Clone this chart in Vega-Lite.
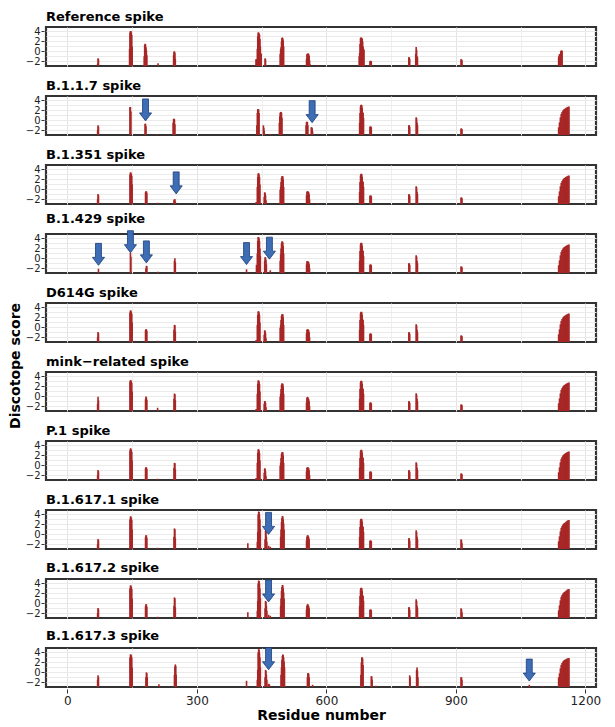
{
"$schema":"https://vega.github.io/schema/vega-lite/v6.json",
"padding":{"left":9,"top":9,"right":5,"bottom":2},
"background":"white",
"title":{"text":"Discotope score","orient":"left","anchor":"middle","fontSize":14,"fontWeight":"bold","font":"DejaVu Sans","color":"black","offset":2},
"datasets":{"d":[
{"v":0,"r":70,"s":-2.5},{"v":0,"r":71,"s":-1.4},{"v":0,"r":72,"s":-1.6},
{"v":0,"r":144,"s":0.5},{"v":0,"r":145,"s":3.8},{"v":0,"r":146,"s":4.1},{"v":0,"r":147,"s":4.1},{"v":0,"r":148,"s":3.8},{"v":0,"r":149,"s":3.3},{"v":0,"r":150,"s":1.0},
{"v":0,"r":178,"s":-1.0},{"v":0,"r":179,"s":1.3},{"v":0,"r":180,"s":1.55},{"v":0,"r":181,"s":1.4},{"v":0,"r":182,"s":0.8},{"v":0,"r":183,"s":0.2},{"v":0,"r":184,"s":-0.8},
{"v":0,"r":210,"s":-2.4},
{"v":0,"r":246,"s":-0.8},{"v":0,"r":247,"s":-0.1},{"v":0,"r":248,"s":0.0},{"v":0,"r":249,"s":-0.3},{"v":0,"r":250,"s":-1.5},
{"v":0,"r":437,"s":-1.6},{"v":0,"r":438,"s":-1.6},{"v":0,"r":439,"s":-1.9},{"v":0,"r":440,"s":0.5},{"v":0,"r":441,"s":3.0},{"v":0,"r":442,"s":3.8},{"v":0,"r":443,"s":3.8},{"v":0,"r":444,"s":3.6},{"v":0,"r":445,"s":3.4},{"v":0,"r":446,"s":2.5},{"v":0,"r":447,"s":1.0},{"v":0,"r":448,"s":-0.4},{"v":0,"r":449,"s":-0.5},
{"v":0,"r":458,"s":-1.4},{"v":0,"r":459,"s":-1.6},
{"v":0,"r":493,"s":-0.5},{"v":0,"r":494,"s":0.4},{"v":0,"r":495,"s":0.8},{"v":0,"r":496,"s":2.0},{"v":0,"r":497,"s":2.7},{"v":0,"r":498,"s":2.8},{"v":0,"r":499,"s":2.6},{"v":0,"r":500,"s":2.2},{"v":0,"r":501,"s":1.0},
{"v":0,"r":554,"s":-1.5},{"v":0,"r":555,"s":-0.6},{"v":0,"r":556,"s":-0.5},{"v":0,"r":557,"s":-0.5},{"v":0,"r":558,"s":-0.4},{"v":0,"r":559,"s":-0.6},{"v":0,"r":560,"s":-0.9},{"v":0,"r":561,"s":-1.8},{"v":0,"r":562,"s":-2.6},
{"v":0,"r":580,"s":-2.8},
{"v":0,"r":676,"s":-1.0},{"v":0,"r":677,"s":-0.3},{"v":0,"r":678,"s":1.5},{"v":0,"r":679,"s":2.7},{"v":0,"r":680,"s":2.8},{"v":0,"r":681,"s":2.75},{"v":0,"r":682,"s":2.7},{"v":0,"r":683,"s":2.5},{"v":0,"r":684,"s":2.0},{"v":0,"r":685,"s":1.0},{"v":0,"r":686,"s":0.5},{"v":0,"r":687,"s":0.3},
{"v":0,"r":701,"s":-2.0},{"v":0,"r":702,"s":-1.9},{"v":0,"r":703,"s":-1.95},{"v":0,"r":704,"s":-2.0},
{"v":0,"r":791,"s":-1.2},{"v":0,"r":792,"s":-1.2},{"v":0,"r":793,"s":-1.5},
{"v":0,"r":807,"s":-0.5},{"v":0,"r":808,"s":0.85},{"v":0,"r":809,"s":0.3},{"v":0,"r":810,"s":-1.0},{"v":0,"r":811,"s":-1.2},
{"v":0,"r":912,"s":-1.6},{"v":0,"r":913,"s":-1.6},{"v":0,"r":914,"s":-1.8},
{"v":0,"r":1069,"s":-2.9},
{"v":0,"r":1138,"s":-1.2},{"v":0,"r":1139,"s":-0.9},{"v":0,"r":1140,"s":-0.6},{"v":0,"r":1141,"s":-0.55},{"v":0,"r":1142,"s":-0.5},{"v":0,"r":1143,"s":0.0},{"v":0,"r":1144,"s":0.15},{"v":0,"r":1145,"s":0.15},{"v":0,"r":1146,"s":0.1},

{"v":1,"r":70,"s":-2.0},{"v":1,"r":71,"s":-1.0},{"v":1,"r":72,"s":-1.3},
{"v":1,"r":145,"s":2.7},{"v":1,"r":146,"s":2.7},{"v":1,"r":147,"s":1.8},
{"v":1,"r":180,"s":-0.7},{"v":1,"r":181,"s":-0.7},{"v":1,"r":182,"s":-1.2},
{"v":1,"r":207,"s":-2.8},
{"v":1,"r":245,"s":-0.5},{"v":1,"r":246,"s":0.3},{"v":1,"r":247,"s":0.3},{"v":1,"r":248,"s":0.2},{"v":1,"r":249,"s":-0.8},
{"v":1,"r":411,"s":-2.8},
{"v":1,"r":439,"s":-1.0},{"v":1,"r":440,"s":1.5},{"v":1,"r":441,"s":2.25},{"v":1,"r":442,"s":2.25},{"v":1,"r":443,"s":2.2},{"v":1,"r":444,"s":1.5},
{"v":1,"r":454,"s":-1.0},{"v":1,"r":455,"s":-1.5},{"v":1,"r":456,"s":-2.1},
{"v":1,"r":471,"s":-2.8},
{"v":1,"r":491,"s":-0.5},{"v":1,"r":492,"s":0.8},{"v":1,"r":493,"s":1.5},{"v":1,"r":494,"s":1.7},{"v":1,"r":495,"s":1.7},{"v":1,"r":496,"s":1.5},{"v":1,"r":497,"s":0.5},
{"v":1,"r":553,"s":-1.0},{"v":1,"r":554,"s":-0.3},{"v":1,"r":555,"s":-0.3},{"v":1,"r":556,"s":-0.4},{"v":1,"r":557,"s":-1.0},
{"v":1,"r":565,"s":-1.4},{"v":1,"r":566,"s":-1.4},{"v":1,"r":567,"s":-1.6},{"v":1,"r":568,"s":-2.2},
{"v":1,"r":677,"s":-0.5},{"v":1,"r":678,"s":1.5},{"v":1,"r":679,"s":2.8},{"v":1,"r":680,"s":3.1},{"v":1,"r":681,"s":3.15},{"v":1,"r":682,"s":3.0},{"v":1,"r":683,"s":2.5},{"v":1,"r":684,"s":1.65},{"v":1,"r":685,"s":1.5},{"v":1,"r":686,"s":0.5},
{"v":1,"r":701,"s":-1.3},{"v":1,"r":702,"s":-1.25},{"v":1,"r":703,"s":-1.25},{"v":1,"r":704,"s":-1.4},
{"v":1,"r":791,"s":-1.0},{"v":1,"r":792,"s":-1.0},{"v":1,"r":793,"s":-1.3},
{"v":1,"r":808,"s":0.6},{"v":1,"r":809,"s":0.4},{"v":1,"r":810,"s":-0.5},{"v":1,"r":811,"s":-1.0},
{"v":1,"r":912,"s":-1.65},{"v":1,"r":913,"s":-1.65},{"v":1,"r":914,"s":-1.8},
{"v":1,"r":1138,"s":-1.4},{"v":1,"r":1140,"s":-0.4},{"v":1,"r":1142,"s":0.6},{"v":1,"r":1144,"s":1.3},{"v":1,"r":1146,"s":1.7},{"v":1,"r":1148,"s":2.0},{"v":1,"r":1150,"s":2.2},{"v":1,"r":1152,"s":2.3},{"v":1,"r":1154,"s":2.45},{"v":1,"r":1156,"s":2.55},{"v":1,"r":1158,"s":2.65},{"v":1,"r":1160,"s":2.75},{"v":1,"r":1162,"s":2.8},
{"v":1,"r":181,"a":2.1},{"v":1,"r":567,"a":1.75},

{"v":2,"r":70,"s":-2.0},{"v":2,"r":71,"s":-0.95},{"v":2,"r":72,"s":-1.2},
{"v":2,"r":145,"s":3.0},{"v":2,"r":146,"s":3.4},{"v":2,"r":147,"s":3.4},{"v":2,"r":148,"s":3.1},{"v":2,"r":149,"s":2.7},{"v":2,"r":150,"s":1.0},
{"v":2,"r":181,"s":-0.6},{"v":2,"r":182,"s":-0.4},{"v":2,"r":183,"s":-0.4},{"v":2,"r":184,"s":-0.7},
{"v":2,"r":209,"s":-2.7},
{"v":2,"r":247,"s":-2.2},{"v":2,"r":248,"s":-2.0},{"v":2,"r":249,"s":-2.0},{"v":2,"r":250,"s":-2.5},
{"v":2,"r":437,"s":-2.6},{"v":2,"r":438,"s":-2.6},{"v":2,"r":440,"s":0.5},{"v":2,"r":441,"s":2.5},{"v":2,"r":442,"s":3.2},{"v":2,"r":443,"s":3.25},{"v":2,"r":444,"s":3.0},{"v":2,"r":445,"s":2.5},{"v":2,"r":446,"s":1.0},
{"v":2,"r":456,"s":-1.5},{"v":2,"r":457,"s":-0.6},{"v":2,"r":458,"s":-0.7},{"v":2,"r":459,"s":-1.2},{"v":2,"r":460,"s":-2.2},
{"v":2,"r":493,"s":-0.1},{"v":2,"r":494,"s":0.5},{"v":2,"r":495,"s":1.5},{"v":2,"r":496,"s":2.3},{"v":2,"r":497,"s":2.6},{"v":2,"r":498,"s":2.7},{"v":2,"r":499,"s":2.6},{"v":2,"r":500,"s":2.0},{"v":2,"r":501,"s":0.5},
{"v":2,"r":554,"s":-1.2},{"v":2,"r":555,"s":-0.5},{"v":2,"r":556,"s":-0.4},{"v":2,"r":557,"s":-0.4},{"v":2,"r":558,"s":-0.5},{"v":2,"r":559,"s":-0.6},{"v":2,"r":560,"s":-1.0},{"v":2,"r":561,"s":-2.0},
{"v":2,"r":580,"s":-2.8},
{"v":2,"r":677,"s":-0.5},{"v":2,"r":678,"s":1.5},{"v":2,"r":679,"s":2.8},{"v":2,"r":680,"s":3.1},{"v":2,"r":681,"s":3.15},{"v":2,"r":682,"s":3.0},{"v":2,"r":683,"s":2.5},{"v":2,"r":684,"s":1.65},{"v":2,"r":685,"s":1.5},{"v":2,"r":686,"s":0.5},
{"v":2,"r":701,"s":-1.3},{"v":2,"r":702,"s":-1.25},{"v":2,"r":703,"s":-1.25},{"v":2,"r":704,"s":-1.4},
{"v":2,"r":791,"s":-1.0},{"v":2,"r":792,"s":-1.0},{"v":2,"r":793,"s":-1.3},
{"v":2,"r":808,"s":0.6},{"v":2,"r":809,"s":0.4},{"v":2,"r":810,"s":-0.5},{"v":2,"r":811,"s":-1.0},
{"v":2,"r":912,"s":-1.65},{"v":2,"r":913,"s":-1.65},{"v":2,"r":914,"s":-1.8},
{"v":2,"r":1138,"s":-1.4},{"v":2,"r":1140,"s":-0.4},{"v":2,"r":1142,"s":0.6},{"v":2,"r":1144,"s":1.3},{"v":2,"r":1146,"s":1.7},{"v":2,"r":1148,"s":2.0},{"v":2,"r":1150,"s":2.2},{"v":2,"r":1152,"s":2.3},{"v":2,"r":1154,"s":2.45},{"v":2,"r":1156,"s":2.55},{"v":2,"r":1158,"s":2.65},{"v":2,"r":1160,"s":2.75},{"v":2,"r":1162,"s":2.8},
{"v":2,"r":252,"a":1.3},

{"v":3,"r":72,"s":-2.1},
{"v":3,"r":146,"s":1.15},{"v":3,"r":147,"s":0.3},
{"v":3,"r":182,"s":-2.0},{"v":3,"r":183,"s":-1.5},{"v":3,"r":184,"s":-1.6},
{"v":3,"r":210,"s":-2.7},
{"v":3,"r":248,"s":-0.5},{"v":3,"r":249,"s":0.0},{"v":3,"r":250,"s":-0.8},
{"v":3,"r":415,"s":-2.2},
{"v":3,"r":438,"s":-1.3},{"v":3,"r":439,"s":-1.5},{"v":3,"r":440,"s":1.0},{"v":3,"r":441,"s":3.5},{"v":3,"r":442,"s":4.3},{"v":3,"r":443,"s":4.3},{"v":3,"r":444,"s":4.0},{"v":3,"r":445,"s":3.5},{"v":3,"r":446,"s":2.0},{"v":3,"r":447,"s":0.5},
{"v":3,"r":457,"s":-0.5},{"v":3,"r":458,"s":0.2},{"v":3,"r":459,"s":0.2},{"v":3,"r":460,"s":-0.3},{"v":3,"r":461,"s":-1.2},
{"v":3,"r":470,"s":-2.4},
{"v":3,"r":493,"s":-0.5},{"v":3,"r":494,"s":0.8},{"v":3,"r":495,"s":2.0},{"v":3,"r":496,"s":3.0},{"v":3,"r":497,"s":3.4},{"v":3,"r":498,"s":3.4},{"v":3,"r":499,"s":3.2},{"v":3,"r":500,"s":2.5},{"v":3,"r":501,"s":1.0},
{"v":3,"r":554,"s":-1.2},{"v":3,"r":555,"s":-0.6},{"v":3,"r":556,"s":-0.6},{"v":3,"r":557,"s":-0.6},{"v":3,"r":558,"s":-0.7},{"v":3,"r":559,"s":-0.8},{"v":3,"r":560,"s":-1.2},{"v":3,"r":561,"s":-2.0},
{"v":3,"r":677,"s":-0.5},{"v":3,"r":678,"s":1.5},{"v":3,"r":679,"s":2.8},{"v":3,"r":680,"s":3.1},{"v":3,"r":681,"s":3.15},{"v":3,"r":682,"s":3.0},{"v":3,"r":683,"s":2.5},{"v":3,"r":684,"s":1.65},{"v":3,"r":685,"s":1.5},{"v":3,"r":686,"s":0.5},
{"v":3,"r":701,"s":-1.3},{"v":3,"r":702,"s":-1.25},{"v":3,"r":703,"s":-1.25},{"v":3,"r":704,"s":-1.4},
{"v":3,"r":791,"s":-1.0},{"v":3,"r":792,"s":-1.0},{"v":3,"r":793,"s":-1.3},
{"v":3,"r":808,"s":0.6},{"v":3,"r":809,"s":0.4},{"v":3,"r":810,"s":-0.5},{"v":3,"r":811,"s":-1.0},
{"v":3,"r":912,"s":-1.65},{"v":3,"r":913,"s":-1.65},{"v":3,"r":914,"s":-1.8},
{"v":3,"r":1138,"s":-1.4},{"v":3,"r":1140,"s":-0.4},{"v":3,"r":1142,"s":0.6},{"v":3,"r":1144,"s":1.3},{"v":3,"r":1146,"s":1.7},{"v":3,"r":1148,"s":2.0},{"v":3,"r":1150,"s":2.2},{"v":3,"r":1152,"s":2.3},{"v":3,"r":1154,"s":2.45},{"v":3,"r":1156,"s":2.55},{"v":3,"r":1158,"s":2.65},{"v":3,"r":1160,"s":2.75},{"v":3,"r":1162,"s":2.8},
{"v":3,"r":72,"a":0.8},{"v":3,"r":146,"a":3.35},{"v":3,"r":183,"a":1.3},{"v":3,"r":415,"a":0.95},{"v":3,"r":468,"a":2.05},

{"v":4,"r":70,"s":-2.0},{"v":4,"r":71,"s":-0.95},{"v":4,"r":72,"s":-1.2},
{"v":4,"r":145,"s":3.0},{"v":4,"r":146,"s":3.4},{"v":4,"r":147,"s":3.4},{"v":4,"r":148,"s":3.1},{"v":4,"r":149,"s":2.7},{"v":4,"r":150,"s":1.0},
{"v":4,"r":181,"s":-0.6},{"v":4,"r":182,"s":-0.4},{"v":4,"r":183,"s":-0.4},{"v":4,"r":184,"s":-0.7},
{"v":4,"r":209,"s":-2.7},
{"v":4,"r":247,"s":-0.5},{"v":4,"r":248,"s":0.5},{"v":4,"r":249,"s":0.4},{"v":4,"r":250,"s":-0.8},
{"v":4,"r":437,"s":-2.6},{"v":4,"r":438,"s":-2.6},{"v":4,"r":440,"s":0.5},{"v":4,"r":441,"s":2.5},{"v":4,"r":442,"s":3.2},{"v":4,"r":443,"s":3.25},{"v":4,"r":444,"s":3.0},{"v":4,"r":445,"s":2.5},{"v":4,"r":446,"s":1.0},
{"v":4,"r":456,"s":-1.5},{"v":4,"r":457,"s":-0.6},{"v":4,"r":458,"s":-0.7},{"v":4,"r":459,"s":-1.2},{"v":4,"r":460,"s":-2.2},
{"v":4,"r":493,"s":-0.1},{"v":4,"r":494,"s":0.5},{"v":4,"r":495,"s":1.5},{"v":4,"r":496,"s":2.3},{"v":4,"r":497,"s":2.6},{"v":4,"r":498,"s":2.7},{"v":4,"r":499,"s":2.6},{"v":4,"r":500,"s":2.0},{"v":4,"r":501,"s":0.5},
{"v":4,"r":554,"s":-1.2},{"v":4,"r":555,"s":-0.5},{"v":4,"r":556,"s":-0.4},{"v":4,"r":557,"s":-0.4},{"v":4,"r":558,"s":-0.5},{"v":4,"r":559,"s":-0.6},{"v":4,"r":560,"s":-1.0},{"v":4,"r":561,"s":-2.0},
{"v":4,"r":580,"s":-2.8},
{"v":4,"r":677,"s":-0.5},{"v":4,"r":678,"s":1.5},{"v":4,"r":679,"s":2.8},{"v":4,"r":680,"s":3.1},{"v":4,"r":681,"s":3.15},{"v":4,"r":682,"s":3.0},{"v":4,"r":683,"s":2.5},{"v":4,"r":684,"s":1.65},{"v":4,"r":685,"s":1.5},{"v":4,"r":686,"s":0.5},
{"v":4,"r":701,"s":-1.3},{"v":4,"r":702,"s":-1.25},{"v":4,"r":703,"s":-1.25},{"v":4,"r":704,"s":-1.4},
{"v":4,"r":791,"s":-1.0},{"v":4,"r":792,"s":-1.0},{"v":4,"r":793,"s":-1.3},
{"v":4,"r":808,"s":0.6},{"v":4,"r":809,"s":0.4},{"v":4,"r":810,"s":-0.5},{"v":4,"r":811,"s":-1.0},
{"v":4,"r":912,"s":-1.65},{"v":4,"r":913,"s":-1.65},{"v":4,"r":914,"s":-1.8},
{"v":4,"r":1138,"s":-1.4},{"v":4,"r":1140,"s":-0.4},{"v":4,"r":1142,"s":0.6},{"v":4,"r":1144,"s":1.3},{"v":4,"r":1146,"s":1.7},{"v":4,"r":1148,"s":2.0},{"v":4,"r":1150,"s":2.2},{"v":4,"r":1152,"s":2.3},{"v":4,"r":1154,"s":2.45},{"v":4,"r":1156,"s":2.55},{"v":4,"r":1158,"s":2.65},{"v":4,"r":1160,"s":2.75},{"v":4,"r":1162,"s":2.8},

{"v":5,"r":70,"s":-1.5},{"v":5,"r":71,"s":-0.1},{"v":5,"r":72,"s":-0.8},
{"v":5,"r":145,"s":3.0},{"v":5,"r":146,"s":3.25},{"v":5,"r":147,"s":3.25},{"v":5,"r":148,"s":3.0},{"v":5,"r":149,"s":2.7},{"v":5,"r":150,"s":1.0},
{"v":5,"r":181,"s":-0.6},{"v":5,"r":182,"s":-0.05},{"v":5,"r":183,"s":-0.2},{"v":5,"r":184,"s":-0.7},
{"v":5,"r":209,"s":-2.3},
{"v":5,"r":247,"s":-0.5},{"v":5,"r":248,"s":0.57},{"v":5,"r":249,"s":0.4},{"v":5,"r":250,"s":-0.8},
{"v":5,"r":437,"s":-2.6},{"v":5,"r":438,"s":-2.6},{"v":5,"r":440,"s":0.5},{"v":5,"r":441,"s":2.5},{"v":5,"r":442,"s":3.2},{"v":5,"r":443,"s":3.2},{"v":5,"r":444,"s":3.0},{"v":5,"r":445,"s":2.5},{"v":5,"r":446,"s":1.0},
{"v":5,"r":456,"s":-1.5},{"v":5,"r":457,"s":-0.95},{"v":5,"r":458,"s":-1.0},{"v":5,"r":459,"s":-1.3},{"v":5,"r":460,"s":-2.2},
{"v":5,"r":493,"s":-0.1},{"v":5,"r":494,"s":0.5},{"v":5,"r":495,"s":1.5},{"v":5,"r":496,"s":2.3},{"v":5,"r":497,"s":2.6},{"v":5,"r":498,"s":2.6},{"v":5,"r":499,"s":2.5},{"v":5,"r":500,"s":2.0},{"v":5,"r":501,"s":0.5},
{"v":5,"r":554,"s":-1.2},{"v":5,"r":555,"s":-0.3},{"v":5,"r":556,"s":-0.1},{"v":5,"r":557,"s":-0.2},{"v":5,"r":558,"s":-0.4},{"v":5,"r":559,"s":-0.6},{"v":5,"r":560,"s":-1.0},{"v":5,"r":561,"s":-2.0},
{"v":5,"r":580,"s":-2.8},
{"v":5,"r":677,"s":-0.5},{"v":5,"r":678,"s":1.5},{"v":5,"r":679,"s":2.8},{"v":5,"r":680,"s":3.1},{"v":5,"r":681,"s":3.15},{"v":5,"r":682,"s":3.0},{"v":5,"r":683,"s":2.5},{"v":5,"r":684,"s":1.65},{"v":5,"r":685,"s":1.5},{"v":5,"r":686,"s":0.5},
{"v":5,"r":701,"s":-1.3},{"v":5,"r":702,"s":-1.25},{"v":5,"r":703,"s":-1.25},{"v":5,"r":704,"s":-1.4},
{"v":5,"r":791,"s":-1.0},{"v":5,"r":792,"s":-1.0},{"v":5,"r":793,"s":-1.3},
{"v":5,"r":808,"s":0.6},{"v":5,"r":809,"s":0.4},{"v":5,"r":810,"s":-0.5},{"v":5,"r":811,"s":-1.0},
{"v":5,"r":912,"s":-1.65},{"v":5,"r":913,"s":-1.65},{"v":5,"r":914,"s":-1.8},
{"v":5,"r":1138,"s":-1.4},{"v":5,"r":1140,"s":-0.4},{"v":5,"r":1142,"s":0.6},{"v":5,"r":1144,"s":1.3},{"v":5,"r":1146,"s":1.7},{"v":5,"r":1148,"s":2.0},{"v":5,"r":1150,"s":2.2},{"v":5,"r":1152,"s":2.3},{"v":5,"r":1154,"s":2.45},{"v":5,"r":1156,"s":2.55},{"v":5,"r":1158,"s":2.65},{"v":5,"r":1160,"s":2.75},{"v":5,"r":1162,"s":2.8},

{"v":6,"r":70,"s":-2.0},{"v":6,"r":71,"s":-0.95},{"v":6,"r":72,"s":-1.2},
{"v":6,"r":145,"s":3.0},{"v":6,"r":146,"s":3.4},{"v":6,"r":147,"s":3.4},{"v":6,"r":148,"s":3.1},{"v":6,"r":149,"s":2.7},{"v":6,"r":150,"s":1.0},
{"v":6,"r":181,"s":-0.6},{"v":6,"r":182,"s":-0.4},{"v":6,"r":183,"s":-0.4},{"v":6,"r":184,"s":-0.7},
{"v":6,"r":209,"s":-2.7},
{"v":6,"r":247,"s":-0.5},{"v":6,"r":248,"s":0.5},{"v":6,"r":249,"s":0.4},{"v":6,"r":250,"s":-0.8},
{"v":6,"r":437,"s":-2.6},{"v":6,"r":438,"s":-2.6},{"v":6,"r":440,"s":0.5},{"v":6,"r":441,"s":2.5},{"v":6,"r":442,"s":3.2},{"v":6,"r":443,"s":3.25},{"v":6,"r":444,"s":3.0},{"v":6,"r":445,"s":2.5},{"v":6,"r":446,"s":1.0},
{"v":6,"r":456,"s":-1.5},{"v":6,"r":457,"s":-0.6},{"v":6,"r":458,"s":-0.7},{"v":6,"r":459,"s":-1.2},{"v":6,"r":460,"s":-2.2},
{"v":6,"r":493,"s":-0.1},{"v":6,"r":494,"s":0.5},{"v":6,"r":495,"s":1.5},{"v":6,"r":496,"s":2.3},{"v":6,"r":497,"s":2.6},{"v":6,"r":498,"s":2.7},{"v":6,"r":499,"s":2.6},{"v":6,"r":500,"s":2.0},{"v":6,"r":501,"s":0.5},
{"v":6,"r":554,"s":-1.2},{"v":6,"r":555,"s":-0.5},{"v":6,"r":556,"s":-0.4},{"v":6,"r":557,"s":-0.4},{"v":6,"r":558,"s":-0.5},{"v":6,"r":559,"s":-0.6},{"v":6,"r":560,"s":-1.0},{"v":6,"r":561,"s":-2.0},
{"v":6,"r":580,"s":-2.8},
{"v":6,"r":677,"s":-0.5},{"v":6,"r":678,"s":1.5},{"v":6,"r":679,"s":2.8},{"v":6,"r":680,"s":3.1},{"v":6,"r":681,"s":3.15},{"v":6,"r":682,"s":3.0},{"v":6,"r":683,"s":2.5},{"v":6,"r":684,"s":1.65},{"v":6,"r":685,"s":1.5},{"v":6,"r":686,"s":0.5},
{"v":6,"r":701,"s":-1.3},{"v":6,"r":702,"s":-1.25},{"v":6,"r":703,"s":-1.25},{"v":6,"r":704,"s":-1.4},
{"v":6,"r":791,"s":-1.0},{"v":6,"r":792,"s":-1.0},{"v":6,"r":793,"s":-1.3},
{"v":6,"r":808,"s":0.6},{"v":6,"r":809,"s":0.4},{"v":6,"r":810,"s":-0.5},{"v":6,"r":811,"s":-1.0},
{"v":6,"r":912,"s":-1.65},{"v":6,"r":913,"s":-1.65},{"v":6,"r":914,"s":-1.8},
{"v":6,"r":1138,"s":-1.4},{"v":6,"r":1140,"s":-0.4},{"v":6,"r":1142,"s":0.6},{"v":6,"r":1144,"s":1.3},{"v":6,"r":1146,"s":1.7},{"v":6,"r":1148,"s":2.0},{"v":6,"r":1150,"s":2.2},{"v":6,"r":1152,"s":2.3},{"v":6,"r":1154,"s":2.45},{"v":6,"r":1156,"s":2.55},{"v":6,"r":1158,"s":2.65},{"v":6,"r":1160,"s":2.75},{"v":6,"r":1162,"s":2.8},

{"v":7,"r":70,"s":-2.0},{"v":7,"r":71,"s":-0.95},{"v":7,"r":72,"s":-1.2},
{"v":7,"r":145,"s":3.0},{"v":7,"r":146,"s":3.6},{"v":7,"r":147,"s":3.6},{"v":7,"r":148,"s":3.3},{"v":7,"r":149,"s":2.9},{"v":7,"r":150,"s":1.0},
{"v":7,"r":181,"s":-0.6},{"v":7,"r":182,"s":-0.2},{"v":7,"r":183,"s":-0.2},{"v":7,"r":184,"s":-0.7},
{"v":7,"r":209,"s":-2.7},
{"v":7,"r":247,"s":-0.5},{"v":7,"r":248,"s":1.2},{"v":7,"r":249,"s":1.0},{"v":7,"r":250,"s":-0.8},
{"v":7,"r":418,"s":-1.8},
{"v":7,"r":440,"s":-1.5},{"v":7,"r":441,"s":0.5},{"v":7,"r":442,"s":4.0},{"v":7,"r":443,"s":4.6},{"v":7,"r":444,"s":4.5},{"v":7,"r":445,"s":4.0},{"v":7,"r":446,"s":3.0},{"v":7,"r":447,"s":1.0},
{"v":7,"r":458,"s":-1.0},{"v":7,"r":459,"s":0.8},{"v":7,"r":460,"s":0.5},{"v":7,"r":461,"s":-0.5},{"v":7,"r":462,"s":-1.5},
{"v":7,"r":466,"s":-2.3},{"v":7,"r":470,"s":-2.5},
{"v":7,"r":494,"s":-0.5},{"v":7,"r":495,"s":1.0},{"v":7,"r":496,"s":2.5},{"v":7,"r":497,"s":3.3},{"v":7,"r":498,"s":3.7},{"v":7,"r":499,"s":3.6},{"v":7,"r":500,"s":3.0},{"v":7,"r":501,"s":2.2},{"v":7,"r":502,"s":1.0},
{"v":7,"r":554,"s":-1.2},{"v":7,"r":555,"s":-0.5},{"v":7,"r":556,"s":-0.2},{"v":7,"r":557,"s":-0.2},{"v":7,"r":558,"s":-0.4},{"v":7,"r":559,"s":-0.6},{"v":7,"r":560,"s":-1.0},
{"v":7,"r":677,"s":-0.5},{"v":7,"r":678,"s":1.5},{"v":7,"r":679,"s":2.8},{"v":7,"r":680,"s":3.1},{"v":7,"r":681,"s":3.15},{"v":7,"r":682,"s":3.0},{"v":7,"r":683,"s":2.5},{"v":7,"r":684,"s":1.65},{"v":7,"r":685,"s":1.5},{"v":7,"r":686,"s":0.5},
{"v":7,"r":701,"s":-1.3},{"v":7,"r":702,"s":-1.25},{"v":7,"r":703,"s":-1.25},{"v":7,"r":704,"s":-1.4},
{"v":7,"r":791,"s":-0.8},{"v":7,"r":792,"s":-0.8},{"v":7,"r":793,"s":-1.3},
{"v":7,"r":808,"s":0.8},{"v":7,"r":809,"s":0.5},{"v":7,"r":810,"s":-0.5},{"v":7,"r":811,"s":-1.0},
{"v":7,"r":912,"s":-1.0},{"v":7,"r":913,"s":-1.2},{"v":7,"r":914,"s":-1.8},
{"v":7,"r":1138,"s":-1.4},{"v":7,"r":1140,"s":-0.4},{"v":7,"r":1142,"s":0.6},{"v":7,"r":1144,"s":1.3},{"v":7,"r":1146,"s":1.7},{"v":7,"r":1148,"s":2.0},{"v":7,"r":1150,"s":2.2},{"v":7,"r":1152,"s":2.3},{"v":7,"r":1154,"s":2.45},{"v":7,"r":1156,"s":2.6},{"v":7,"r":1158,"s":2.75},{"v":7,"r":1160,"s":2.85},{"v":7,"r":1162,"s":2.9},
{"v":7,"r":466,"a":2.2},

{"v":8,"r":70,"s":-2.0},{"v":8,"r":71,"s":-0.95},{"v":8,"r":72,"s":-1.2},
{"v":8,"r":145,"s":3.0},{"v":8,"r":146,"s":3.6},{"v":8,"r":147,"s":3.6},{"v":8,"r":148,"s":3.3},{"v":8,"r":149,"s":2.9},{"v":8,"r":150,"s":1.0},
{"v":8,"r":181,"s":-0.6},{"v":8,"r":182,"s":-0.2},{"v":8,"r":183,"s":-0.2},{"v":8,"r":184,"s":-0.7},
{"v":8,"r":209,"s":-2.7},
{"v":8,"r":247,"s":-0.5},{"v":8,"r":248,"s":1.2},{"v":8,"r":249,"s":1.0},{"v":8,"r":250,"s":-0.8},
{"v":8,"r":418,"s":-1.8},
{"v":8,"r":440,"s":-1.5},{"v":8,"r":441,"s":0.5},{"v":8,"r":442,"s":4.0},{"v":8,"r":443,"s":4.6},{"v":8,"r":444,"s":4.5},{"v":8,"r":445,"s":4.0},{"v":8,"r":446,"s":3.0},{"v":8,"r":447,"s":1.0},
{"v":8,"r":458,"s":-1.0},{"v":8,"r":459,"s":0.5},{"v":8,"r":460,"s":0.3},{"v":8,"r":461,"s":-0.5},{"v":8,"r":462,"s":-1.5},
{"v":8,"r":466,"s":-2.3},{"v":8,"r":470,"s":-2.5},
{"v":8,"r":494,"s":-0.5},{"v":8,"r":495,"s":1.0},{"v":8,"r":496,"s":2.5},{"v":8,"r":497,"s":3.3},{"v":8,"r":498,"s":3.7},{"v":8,"r":499,"s":3.6},{"v":8,"r":500,"s":3.0},{"v":8,"r":501,"s":2.2},{"v":8,"r":502,"s":1.0},
{"v":8,"r":554,"s":-1.2},{"v":8,"r":555,"s":-0.5},{"v":8,"r":556,"s":-0.2},{"v":8,"r":557,"s":-0.2},{"v":8,"r":558,"s":-0.4},{"v":8,"r":559,"s":-0.6},{"v":8,"r":560,"s":-1.0},
{"v":8,"r":677,"s":-0.5},{"v":8,"r":678,"s":1.5},{"v":8,"r":679,"s":2.8},{"v":8,"r":680,"s":3.1},{"v":8,"r":681,"s":3.15},{"v":8,"r":682,"s":3.0},{"v":8,"r":683,"s":2.5},{"v":8,"r":684,"s":1.65},{"v":8,"r":685,"s":1.5},{"v":8,"r":686,"s":0.5},
{"v":8,"r":701,"s":-1.3},{"v":8,"r":702,"s":-1.25},{"v":8,"r":703,"s":-1.25},{"v":8,"r":704,"s":-1.4},
{"v":8,"r":791,"s":-0.8},{"v":8,"r":792,"s":-0.8},{"v":8,"r":793,"s":-1.3},
{"v":8,"r":808,"s":0.8},{"v":8,"r":809,"s":0.5},{"v":8,"r":810,"s":-0.5},{"v":8,"r":811,"s":-1.0},
{"v":8,"r":912,"s":-1.0},{"v":8,"r":913,"s":-1.2},{"v":8,"r":914,"s":-1.8},
{"v":8,"r":1138,"s":-1.4},{"v":8,"r":1140,"s":-0.4},{"v":8,"r":1142,"s":0.6},{"v":8,"r":1144,"s":1.3},{"v":8,"r":1146,"s":1.7},{"v":8,"r":1148,"s":2.0},{"v":8,"r":1150,"s":2.2},{"v":8,"r":1152,"s":2.3},{"v":8,"r":1154,"s":2.45},{"v":8,"r":1156,"s":2.6},{"v":8,"r":1158,"s":2.75},{"v":8,"r":1160,"s":2.85},{"v":8,"r":1162,"s":2.9},
{"v":8,"r":466,"a":2.5},

{"v":9,"r":70,"s":-1.5},{"v":9,"r":71,"s":-0.6},{"v":9,"r":72,"s":-1.0},
{"v":9,"r":145,"s":3.0},{"v":9,"r":146,"s":3.6},{"v":9,"r":147,"s":3.6},{"v":9,"r":148,"s":3.4},{"v":9,"r":149,"s":3.0},{"v":9,"r":150,"s":1.0},
{"v":9,"r":182,"s":-1.0},{"v":9,"r":183,"s":0.0},{"v":9,"r":184,"s":-0.2},{"v":9,"r":185,"s":-1.0},
{"v":9,"r":212,"s":-2.4},
{"v":9,"r":248,"s":-0.5},{"v":9,"r":249,"s":1.2},{"v":9,"r":250,"s":1.6},{"v":9,"r":251,"s":1.3},{"v":9,"r":252,"s":-0.5},
{"v":9,"r":415,"s":-1.7},
{"v":9,"r":440,"s":-1.5},{"v":9,"r":441,"s":0.5},{"v":9,"r":442,"s":4.0},{"v":9,"r":443,"s":4.65},{"v":9,"r":444,"s":4.6},{"v":9,"r":445,"s":4.0},{"v":9,"r":446,"s":3.0},{"v":9,"r":447,"s":1.0},
{"v":9,"r":458,"s":-1.0},{"v":9,"r":459,"s":0.5},{"v":9,"r":460,"s":0.3},{"v":9,"r":461,"s":-0.5},{"v":9,"r":462,"s":-1.5},
{"v":9,"r":466,"s":-2.3},{"v":9,"r":468,"s":-2.4},
{"v":9,"r":495,"s":-0.5},{"v":9,"r":496,"s":1.0},{"v":9,"r":497,"s":2.5},{"v":9,"r":498,"s":3.3},{"v":9,"r":499,"s":3.6},{"v":9,"r":500,"s":3.5},{"v":9,"r":501,"s":3.0},{"v":9,"r":502,"s":2.2},{"v":9,"r":503,"s":1.0},
{"v":9,"r":556,"s":-1.0},{"v":9,"r":557,"s":-0.2},{"v":9,"r":558,"s":-0.15},{"v":9,"r":559,"s":-0.3},{"v":9,"r":560,"s":-1.0},
{"v":9,"r":568,"s":-2.5},
{"v":9,"r":680,"s":-0.5},{"v":9,"r":681,"s":2.0},{"v":9,"r":682,"s":3.0},{"v":9,"r":683,"s":3.0},{"v":9,"r":684,"s":2.8},{"v":9,"r":685,"s":1.5},
{"v":9,"r":704,"s":-0.8},{"v":9,"r":705,"s":-0.8},{"v":9,"r":706,"s":-1.5},
{"v":9,"r":715,"s":-2.7},
{"v":9,"r":793,"s":-0.6},{"v":9,"r":794,"s":-1.0},
{"v":9,"r":809,"s":0.5},{"v":9,"r":810,"s":1.0},{"v":9,"r":811,"s":0.3},{"v":9,"r":812,"s":-1.0},
{"v":9,"r":823,"s":-2.8},
{"v":9,"r":912,"s":-1.0},{"v":9,"r":913,"s":-1.0},{"v":9,"r":914,"s":-1.5},
{"v":9,"r":1070,"s":-2.5},
{"v":9,"r":1102,"s":-2.8},
{"v":9,"r":1138,"s":-1.0},{"v":9,"r":1140,"s":-0.2},{"v":9,"r":1142,"s":0.8},{"v":9,"r":1144,"s":1.5},{"v":9,"r":1146,"s":1.9},{"v":9,"r":1148,"s":2.2},{"v":9,"r":1150,"s":2.4},{"v":9,"r":1152,"s":2.5},{"v":9,"r":1154,"s":2.6},{"v":9,"r":1156,"s":2.7},{"v":9,"r":1158,"s":2.8},{"v":9,"r":1160,"s":2.85},{"v":9,"r":1162,"s":2.9},
{"v":9,"r":466,"a":2.74},{"v":9,"r":1070,"a":0.45}
]},
"data":{"name":"d"},
"facet":{"field":"v","type":"ordinal","sort":"ascending","header":{"title":null,"labelExpr":"['Reference spike','B.1.1.7 spike','B.1.351 spike','B.1.429 spike','D614G spike','mink−related spike','P.1 spike','B.1.617.1 spike','B.1.617.2 spike','B.1.617.3 spike'][datum.value]","labelAnchor":"start","labelAlign":"left","labelFontSize":13,"labelFontWeight":"bold","labelFont":"DejaVu Sans","labelColor":"black","labelPadding":3}},
"columns":1,
"spacing":6,
"spec":{
"width":550,"height":39,
"layer":[
{"transform":[{"filter":"isValid(datum.s)"}],
"mark":{"type":"bar","color":"#A82626","size":1.6,"clip":true},
"encoding":{
"x":{"field":"r","type":"quantitative","scale":{"domain":[-38,1213],"nice":false,"zero":false},
"axis":{"values":[0,150,300,450,600,750,900,1050,1200],"format":"d","labelExpr":"datum.value % 300 === 0 ? datum.label : ''","tickOpacity":{"condition":{"test":"datum.value % 300 === 0","value":1},"value":0},"gridColor":{"condition":{"test":"datum.value % 300 === 0","value":"#E4E4E4"},"value":"#EFEFEF"},"title":"Residue number","titleFontWeight":"bold","titleFontSize":14,"titleFont":"DejaVu Sans","titleColor":"black","domain":false,"tickSize":4,"tickColor":"#333333","labelFontSize":12,"labelFont":"DejaVu Sans","labelColor":"#222222","labelPadding":2,"titlePadding":2}},
"y":{"field":"s","type":"quantitative","scale":{"domain":[-2.95,4.9],"nice":false,"zero":false},
"axis":{"values":[-2,-1,0,1,2,3,4],"labelOverlap":false,"labelFlush":false,"labelExpr":"datum.value == 4 ? '4' : datum.value == 2 ? '2' : datum.value == 0 ? '0' : datum.value == -2 ? '−2' : ''","tickOpacity":{"condition":{"test":"datum.value % 2 === 0","value":1},"value":0},"gridColor":"#EAEAEA","title":null,"domain":false,"tickSize":3,"tickColor":"#333333","labelFontSize":10,"labelFont":"DejaVu Sans","labelColor":"#222222","labelPadding":1,"labelBaseline":"middle"}},
"y2":{"datum":-2.95}}},
{"transform":[{"filter":"isValid(datum.a)"}],
"mark":{"type":"point","shape":"M-0.27,-1L0.27,-1L0.27,0.27L0.55,0.27L0,1L-0.55,0.27L-0.27,0.27Z","filled":true,"size":484,"fill":"#3D6DB5","stroke":"#1C3C78","strokeWidth":0.8,"opacity":1},
"encoding":{
"x":{"field":"r","type":"quantitative",
"axis":{"values":[0,150,300,450,600,750,900,1050,1200],"format":"d","labelExpr":"datum.value % 300 === 0 ? datum.label : ''","tickOpacity":{"condition":{"test":"datum.value % 300 === 0","value":1},"value":0},"gridColor":{"condition":{"test":"datum.value % 300 === 0","value":"#E4E4E4"},"value":"#EFEFEF"},"title":"Residue number","titleFontWeight":"bold","titleFontSize":14,"titleFont":"DejaVu Sans","titleColor":"black","domain":false,"tickSize":4,"tickColor":"#333333","labelFontSize":12,"labelFont":"DejaVu Sans","labelColor":"#222222","labelPadding":2,"titlePadding":2}},
"y":{"field":"a","type":"quantitative",
"axis":{"values":[-2,-1,0,1,2,3,4],"labelOverlap":false,"labelFlush":false,"labelExpr":"datum.value == 4 ? '4' : datum.value == 2 ? '2' : datum.value == 0 ? '0' : datum.value == -2 ? '−2' : ''","tickOpacity":{"condition":{"test":"datum.value % 2 === 0","value":1},"value":0},"gridColor":"#EAEAEA","title":null,"domain":false,"tickSize":3,"tickColor":"#333333","labelFontSize":10,"labelFont":"DejaVu Sans","labelColor":"#222222","labelPadding":1,"labelBaseline":"middle"}}}}
]},
"config":{"view":{"stroke":"#333333","strokeWidth":2.2},"axis":{"gridWidth":1},"axisY":{"labelOverlap":false}}
}
